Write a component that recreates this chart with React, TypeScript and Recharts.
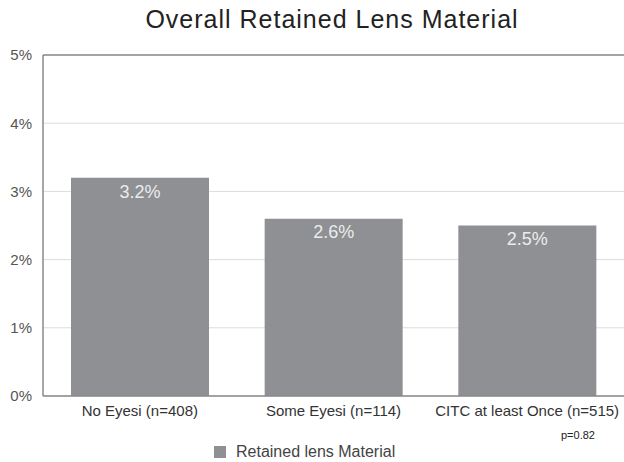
import { Bar, BarChart, CartesianGrid, LabelList, ReferenceLine, XAxis, YAxis } from 'recharts'

const groups = ['No Eyesi (n=408)', 'Some Eyesi (n=114)', 'CITC at least Once (n=515)']
const retained = [3.2, 2.6, 2.5]
const yTicks = [0, 1, 2, 3, 4, 5]

const data = groups.map((g, i) => ({ name: g, retained: retained[i] }))

const font = '"Liberation Sans", Arial, Helvetica, sans-serif'
const barColor = '#8e9093'

export default function App() {
    return (
        <div style={{ position: 'absolute', left: 0, top: 0, width: 624, height: 462, background: '#fff', fontFamily: font }}>
            <div style={{ position: 'absolute', left: 0, top: 5, width: 664, textAlign: 'center', fontSize: 25, letterSpacing: 1, color: '#222' }}>
                Overall Retained Lens Material
            </div>
            <BarChart
                width={624}
                height={462}
                data={data}
                margin={{ top: 55, right: 0, bottom: 36, left: 0 }}
                barCategoryGap={28}
            >
                <CartesianGrid vertical={false} stroke="#dcdcdc" />
                <XAxis
                    dataKey="name"
                    height={30}
                    tickLine={false}
                    tickSize={0}
                    tickMargin={9}
                    axisLine={{ stroke: '#8a8a8a', strokeWidth: 1.5 }}
                    tick={{ fill: '#333', fontSize: 15, fontFamily: font }}
                    interval={0}
                />
                <YAxis
                    width={43}
                    domain={[0, 5]}
                    ticks={yTicks}
                    tickFormatter={(v) => `${v}%`}
                    tickLine={false}
                    tickSize={0}
                    tickMargin={11}
                    axisLine={{ stroke: '#8a8a8a', strokeWidth: 1.5 }}
                    tick={{ fill: '#555', fontSize: 15, fontFamily: font }}
                />
                <ReferenceLine y={5} stroke="#8a8a8a" strokeWidth={1.5} />
                <Bar dataKey="retained" name="Retained lens Material" fill={barColor} isAnimationActive={false}>
                    <LabelList
                        dataKey="retained"
                        position="insideTop"
                        offset={7}
                        formatter={(v: number) => `${v.toFixed(1)}%`}
                        style={{ fill: '#ececec', fontSize: 18, fontFamily: font }}
                    />
                </Bar>
            </BarChart>
            <div style={{ position: 'absolute', left: 561, top: 429, fontSize: 11, color: '#222' }}>p=0.82</div>
            <div style={{ position: 'absolute', left: 214, top: 443, display: 'flex', alignItems: 'center', fontSize: 16, color: '#444' }}>
                <span style={{ display: 'inline-block', width: 12, height: 12, background: barColor, marginRight: 10 }} />
                Retained lens Material
            </div>
        </div>
    )
}
